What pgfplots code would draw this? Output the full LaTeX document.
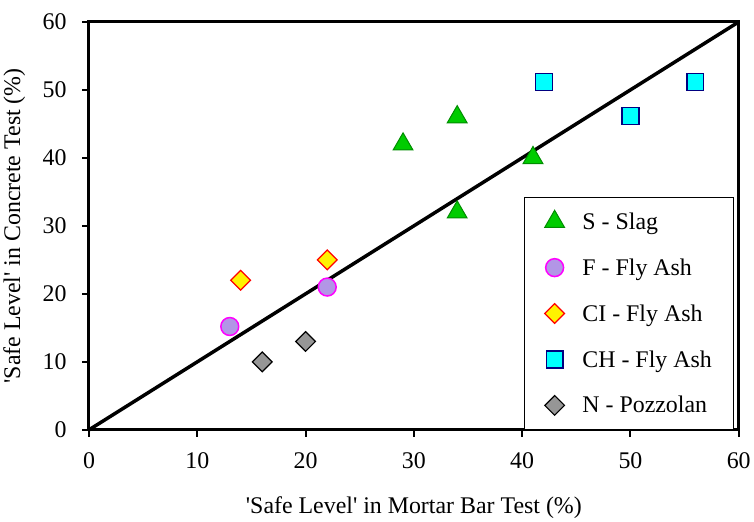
\documentclass[border=0pt]{standalone}
\usepackage{fontspec}
\setmainfont{Liberation Serif}[Ligatures=TeXOff]
\usepackage{pgfplots}
\pgfplotsset{compat=1.18}

\definecolor{slagfill}{RGB}{0,204,0}
\definecolor{slagedge}{RGB}{0,140,0}
\definecolor{ffill}{RGB}{178,150,230}
\definecolor{fedge}{RGB}{255,0,255}
\definecolor{chfill}{RGB}{0,255,255}
\definecolor{chedge}{RGB}{0,0,128}
\definecolor{nfill}{RGB}{150,150,150}

\begin{document}
\begin{tikzpicture}
\begin{axis}[
    scale only axis,
    width=653pt, height=410pt,
    xmin=0, xmax=60, ymin=0, ymax=60,
    xtick={0,10,...,60}, ytick={0,10,...,60},
    xtick pos=left, ytick pos=left,
    tick align=outside,
    major tick length=7pt,
    every tick/.style={black, line width=2pt},
    axis line style={line width=3pt},
    font=\fontsize{24}{28}\selectfont,
    /pgf/number format/assume math mode=true,
    xticklabel style={yshift=-12pt},
    yticklabel style={xshift=-12pt},
    xlabel={'Safe Level' in Mortar Bar Test (\%)},
    ylabel={'Safe Level' in Concrete Test (\%)},
    xlabel style={at={(axis description cs:0.5,-0.19)}, anchor=center},
    ylabel style={at={(axis description cs:-0.115,0.5)}, anchor=center},
    legend cell align=left,
    legend style={at={(0.67,0)}, anchor=south west, draw=black, line width=1pt,
        font=\fontsize{24}{28}\selectfont, row sep=24pt,
        inner xsep=20pt, inner ysep=13pt,
        /tikz/every odd column/.append style={column sep=16pt}},
    clip=false,
]
\addplot[black, line width=3.5pt, forget plot] coordinates {(0,0) (60,60)};
\addplot[only marks, mark=triangle*, mark size=11.5pt, mark options={fill=slagfill, draw=slagedge, line width=1pt}]
    coordinates {(29,42) (34,46) (41,40) (34,32)};
\addlegendentry{S - Slag}
\addplot[only marks, mark=*, mark size=9pt, mark options={fill=ffill, draw=fedge, line width=1.5pt}]
    coordinates {(13,15.2) (22,21)};
\addlegendentry{F - Fly Ash}
\addplot[only marks, mark=square*, mark size=7pt, mark options={rotate=45, fill=yellow, draw=red, line width=1.2pt}]
    coordinates {(14,22) (22,25)};
\addlegendentry{CI - Fly Ash}
\addplot[only marks, mark=square*, mark size=8.5pt, mark options={fill=chfill, draw=chedge, line width=1.2pt}]
    coordinates {(42,51.2) (50,46.2) (56,51.2)};
\addlegendentry{CH - Fly Ash}
\addplot[only marks, mark=square*, mark size=7pt, mark options={rotate=45, fill=nfill, draw=black, line width=1.2pt}]
    coordinates {(16,10) (20,13)};
\addlegendentry{N - Pozzolan}
\path (rel axis cs:0,1) ++(0pt,22pt);
\end{axis}
\end{tikzpicture}
\end{document}
